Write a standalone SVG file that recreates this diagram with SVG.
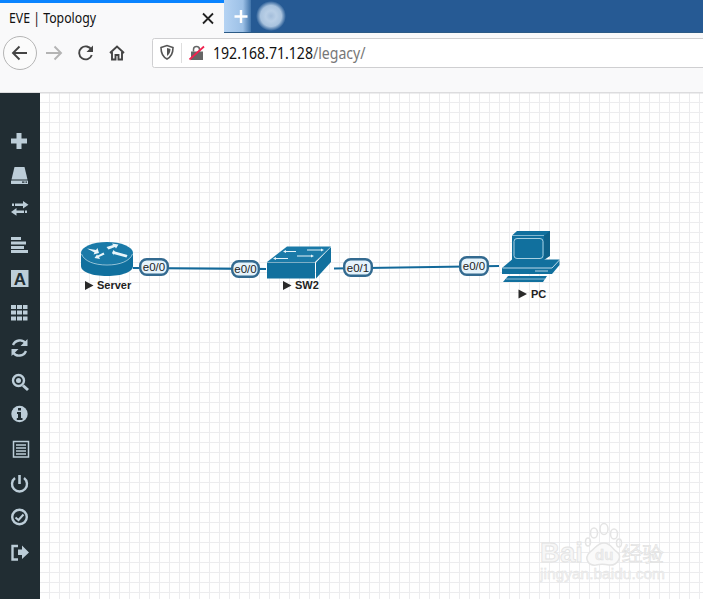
<svg xmlns="http://www.w3.org/2000/svg" width="703" height="599" viewBox="0 0 703 599">
<defs>
<pattern id="grid" x="40" y="93" width="10" height="10" patternUnits="userSpaceOnUse"><path d="M9.500 0V10M0 9.500H10" fill="none" stroke="#ececee" stroke-width="1"/></pattern>
<linearGradient id="tabblur" x1="0" x2="1"><stop offset="0" stop-color="#b5d3f3"/><stop offset=".7" stop-color="#9cc0e6"/><stop offset="1" stop-color="#3f72a8"/></linearGradient>
<radialGradient id="blob"><stop offset="0" stop-color="#a4bedb"/><stop offset=".35" stop-color="#b9cfe6"/><stop offset=".7" stop-color="#a9c3de"/><stop offset="1" stop-color="#265a94"/></radialGradient>
</defs>
<style>
text{font-family:"Liberation Sans",Arial,sans-serif}
.ui{font-family:"Noto Sans","Liberation Sans",sans-serif}
.ic{fill:#bccdd8}
.ics{fill:none;stroke:#bccdd8;stroke-width:2.400}
.link{stroke:#13699a;stroke-width:2.200;fill:none}
.lb rect{fill:#e6f3fb;stroke:#336a90;stroke-width:2.400}
.lb text{font-size:11.500px;fill:#222;text-anchor:middle}
.nl{font-size:11px;font-weight:bold;fill:#222}
.tri{fill:#2a2a2a}
.nd{fill:#11709e}
.wt{fill:#e9f5fa}
</style>
<rect width="703" height="599" fill="#fff"/>
<rect id="canvas" x="40" y="93" width="663" height="506" fill="url(#grid)"/>
<g id="browser">
<rect x="224" y="0" width="479" height="33" fill="#265a94"/>
<rect x="224" y="0" width="27" height="33" fill="url(#tabblur)"/>
<circle cx="271" cy="16" r="15" fill="url(#blob)"/>
<path d="M241 10V23M234.500 16.500H247.500" stroke="#fff" stroke-width="2.400"/>
<rect x="0" y="33" width="703" height="60" fill="#f9f9fa"/>
<rect x="0" y="0" width="224" height="33" fill="#f9f9fa"/>
<rect x="0" y="0" width="224" height="3" fill="#0a84ff"/>
<rect x="224" y="32" width="479" height="1" fill="#2b5a86"/>
<rect x="0" y="92" width="703" height="1.500" fill="#dcdcde"/>
<text class="ui" x="9" y="23" font-size="13.500" fill="#111" textLength="87" lengthAdjust="spacingAndGlyphs">EVE | Topology</text>
<path d="M203 13.500L213 23.500M213 13.500L203 23.500" stroke="#222" stroke-width="1.800"/>
<circle cx="20" cy="53" r="16.500" fill="#fbfbfb" stroke="#b5b5b5"/>
<path d="M27 53H13M19.500 46.500L13 53L19.500 59.500" fill="none" stroke="#444" stroke-width="1.900"/>
<path d="M61 53H46M54.500 46.500L61 53L54.500 59.500" fill="none" stroke="#b4b4b4" stroke-width="1.900"/>
<path d="M91.500 50A6.500 6.500 0 1 0 91.800 55" fill="none" stroke="#444" stroke-width="1.900"/>
<path d="M93 45.500V52H86.500Z" fill="#444"/>
<path d="M110 53L117 46.500L124 53M112 52V59.500H115.500V55H118.500V59.500H122V52" fill="none" stroke="#444" stroke-width="1.900"/>
<rect x="152.500" y="38.500" width="560" height="29" rx="2" fill="#fff" stroke="#cfcfd1"/>
<path d="M161 47.500L167 45.500L173 47.500C173 53 171 57 167 59C163 57 161 53 161 47.500Z" fill="none" stroke="#555" stroke-width="1.600"/>
<path d="M167 48L170.500 49C170.500 52 169.500 54 167 56Z" fill="#555"/>
<rect x="181" y="43" width="1" height="20" fill="#dedede"/>
<path d="M191 51.500H203V60H191Z" fill="#666"/>
<path d="M193.500 51.500V49.500A3 3 0 0 1 199.500 49.500V51.500" fill="none" stroke="#666" stroke-width="1.500"/>
<path d="M189.500 59.500L204 46.500" stroke="#f0234f" stroke-width="1.800"/>
<text class="ui" transform="translate(213 59) scale(.91 1)" font-size="15.500" fill="#111">192.168.71.128<tspan fill="#777">/legacy/</tspan></text>
</g>
<g id="sidebar">
<rect x="0" y="93" width="40" height="506" fill="#212d33"/>
<path class="ic" d="M16.500 133H21.500V138.500H27V143.500H21.500V149H16.500V143.500H11V138.500H16.500Z"/>
<path class="ic" d="M14.500 167H24.500L27.500 179.500H11.500Z"/>
<rect class="ic" x="11" y="180.500" width="17" height="3.500" rx=".5"/>
<path d="M22 182.200H24.500M25.500 182.200H27" stroke="#212d33" stroke-width="1.300"/>
<path class="ic" d="M12 203.500H14V206H12ZM15 203.500H23V201L28.500 204.800L23 208.500V206H15Z"/>
<path class="ic" d="M27 210.500H25V213H27ZM24 210.500H16.500V208L11 212L16.500 215.700V213H24Z"/>
<g class="ic"><rect x="11" y="237" width="10" height="3"/><rect x="11" y="241.500" width="15" height="3"/><rect x="11" y="246" width="13" height="3"/><rect x="11" y="250" width="17" height="3"/></g>
<rect class="ic" x="11" y="270" width="17.500" height="17"/>
<text x="19.800" y="285" font-family="Liberation Serif,serif" font-size="17" font-weight="bold" text-anchor="middle" fill="#212d33">A</text>
<g class="ic"><rect x="11" y="305" width="5" height="4"/><rect x="17" y="305" width="5" height="4"/><rect x="23" y="305" width="4.500" height="4"/><rect x="11" y="310.500" width="5" height="4"/><rect x="17" y="310.500" width="5" height="4"/><rect x="23" y="310.500" width="4.500" height="4"/><rect x="11" y="316.500" width="5" height="4"/><rect x="17" y="316.500" width="5" height="4"/><rect x="23" y="316.500" width="4.500" height="4"/></g>
<path class="ics" d="M13 345A7.500 7.500 0 0 1 26 343.500M26 351A7.500 7.500 0 0 1 13 352.500"/>
<path class="ic" d="M27.500 339V346H20.500ZM11.500 356V349H18.500Z"/>
<circle class="ics" cx="18.500" cy="380.500" r="5.500"/><circle class="ic" cx="18.500" cy="380.500" r="2.500"/>
<path d="M23 385.500L28 390" stroke="#bccdd8" stroke-width="3"/>
<circle class="ic" cx="19.500" cy="414" r="8.200"/>
<path d="M18 408H21V410.500H18ZM17 412H21V418H22.500V420H16.800V418H18V414H17Z" fill="#212d33"/>
<rect x="13.500" y="441.500" width="15" height="15.500" fill="#212d33" stroke="#bccdd8" stroke-width="1.500"/>
<path d="M16 445H26M16 448H26M16 451H26M16 454H26" stroke="#bccdd8" stroke-width="1.500"/>
<path class="ics" d="M15 478A7.500 7.500 0 1 0 24 478"/><path d="M19.500 475V484" stroke="#bccdd8" stroke-width="2.600"/>
<circle class="ics" cx="19.500" cy="517" r="7.300"/>
<path d="M15.500 517.500L18.500 520L23.500 514.500" fill="none" stroke="#bccdd8" stroke-width="2"/>
<path class="ics" d="M18 546H12.500V559.500H18" stroke-width="2.600"/>
<path class="ic" d="M18 549.500H22V545.500L29 552.500L22 559V555H18Z"/>
</g>
<g id="connectors">
<path class="link" d="M133 268L266 269"/>
<path class="link" d="M334 268.500L499 266"/>
</g>
<g id="node-server">
<path class="nd" d="M81 254V266C81 272 92 276 107 276C122 276 133 272 133 266V254Z"/>
<ellipse cx="107" cy="253" rx="26" ry="11" fill="#1a7aa8"/>
<path d="M81.500 254C84 261 94 265 107 265C120 265 130 261 132.500 254" fill="none" stroke="#cde6f1" stroke-width=".7"/>
<path class="wt" d="M87 248.500L96 250L97.500 248L99 253L93.500 254.500L94.500 252.500ZM106.500 247L113 245L112 243.500L118.500 244.500L116 248.500L115 247L108.500 249.500ZM104.500 254.500L99 257L100 259L94.500 258L97 254.500L97.800 255.500L103.500 252.500ZM112 253L113.500 250L115 251.500L127.500 255L126.500 257.500L113.500 254L114 255.500Z"/>
<path class="tri" d="M85 281L93.500 285.500L85 290Z"/>
<text class="nl" x="97" y="289">Server</text>
</g>
<g id="node-sw2">
<path d="M267 262L287 246.500H331L315 262Z" fill="#1a7aa8"/>
<rect class="nd" x="267" y="262.500" width="48" height="16"/>
<path class="nd" d="M316 262.500L331 247V262L316 278.500Z"/>
<path d="M286 251.500H296M307 250H321M275 258.500H288M297 256H311" stroke="#e4f3f9" stroke-width="1"/>
<path class="wt" d="M286 250L283 251.500L286 253ZM321 248.500L324 250L321 251.500ZM276 257L273 258.500L276 260ZM311 254.500L314 256L311 257.500Z"/>
<path class="tri" d="M283 281L291.500 285.500L283 290Z"/>
<text class="nl" x="295" y="289">SW2</text>
</g>
<g id="node-pc">
<path class="nd" d="M512 235.500L517 231H550V236L544 240V260H512Z"/>
<path d="M544 236L550 231V256L544 260Z" fill="#0e6189"/>
<path d="M512 235.500H544" stroke="#cfe8f3" stroke-width=".6"/>
<rect x="514" y="238.500" width="29" height="20" rx="3" fill="#11709e" stroke="#cfe8f3" stroke-width=".8"/>
<path class="nd" d="M512 259.500H559.500V265L552 274H502V268Z"/>
<path d="M502.500 268H552L559.500 260M535 271H548" fill="none" stroke="#e6f3fb" stroke-width=".8"/>
<path class="nd" d="M508 276H547L543 282H503Z"/>
<path d="M506 279H545" stroke="#e6f3fb" stroke-width=".6"/>
<path class="tri" d="M518.500 289.500L527 294L518.500 298.500Z"/>
<text class="nl" x="531" y="298">PC</text>
</g>
<g id="labels">
<g class="lb"><rect x="140.200" y="259.200" width="27.600" height="15.600" rx="6.500"/><text x="154" y="271">e0/0</text></g>
<g class="lb"><rect x="232.200" y="261.200" width="26.600" height="15.600" rx="6.500"/><text x="245.500" y="273">e0/0</text></g>
<g class="lb"><rect x="344.200" y="259.200" width="27.600" height="16.600" rx="6.500"/><text x="358" y="271.500">e0/1</text></g>
<g class="lb"><rect x="460.200" y="257.200" width="27.600" height="17.600" rx="6.500"/><text x="474" y="270">e0/0</text></g>
</g>
<g id="watermark" fill="none" stroke="#e4e4e4" stroke-width="1.500">
<text x="540" y="562" font-size="27" font-weight="bold" fill="#f6f6f6" stroke="#e2e2e2" stroke-width=".8" textLength="43" lengthAdjust="spacingAndGlyphs">Bai</text>
<path d="M604 543C611 543 612 549 617 552C623 557 617 566 609 565C604 564 600 564 596 565C589 566 583 559 590 552C595 549 597 543 604 543Z" fill="#fafafa"/>
<ellipse cx="594" cy="533" rx="3.500" ry="5"/><ellipse cx="604" cy="529" rx="4" ry="5.500"/><ellipse cx="614" cy="534" rx="3.500" ry="5"/>
<ellipse cx="588" cy="542" rx="2.500" ry="4"/><ellipse cx="619" cy="543" rx="2.500" ry="4"/>
<text x="595" y="560" font-size="15" font-weight="bold" fill="#eee" stroke="#dedede" stroke-width=".4">du</text>
<text x="622" y="561" font-size="20.500" fill="#f0f0f0" stroke="#dedede" stroke-width=".5" font-family="Noto Sans CJK SC,sans-serif">经验</text>
<text x="540" y="579" font-size="14" fill="#f2f2f2" stroke="#e2e2e2" stroke-width=".4" textLength="125" lengthAdjust="spacingAndGlyphs">jingyan.baidu.com</text>
</g>
</svg>
